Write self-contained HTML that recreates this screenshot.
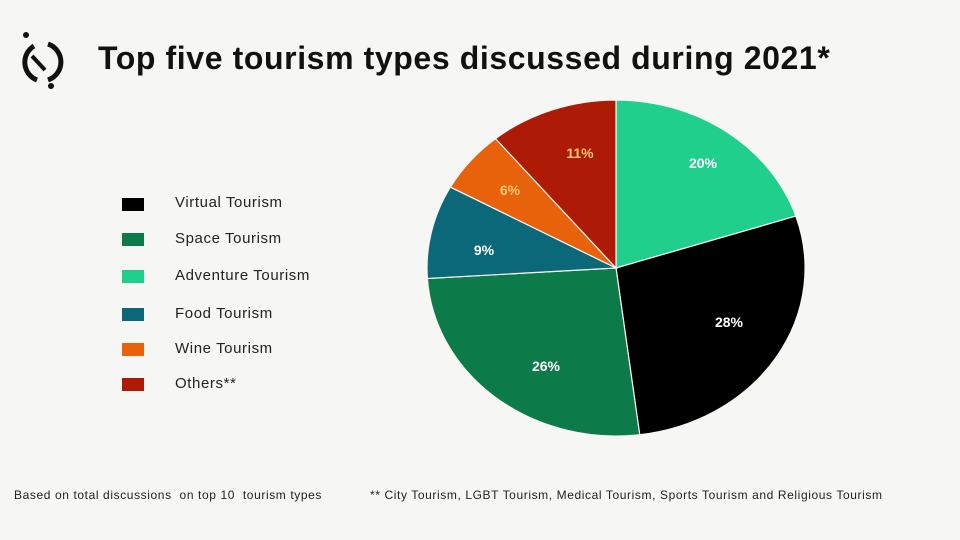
<!DOCTYPE html>
<html><head><style>
body{margin:0;width:960px;height:540px;background:#f6f6f4;font-family:"Liberation Sans",sans-serif;overflow:hidden;position:relative}
.t{position:absolute;white-space:nowrap}
.sq{position:absolute;left:122px;width:22px;height:13px}
.lg{position:absolute;left:175px;font-size:15px;letter-spacing:0.6px;color:#222}
</style></head><body>
<svg width="960" height="540" style="position:absolute;left:0;top:0">
<g fill="none" stroke="#111" stroke-width="5">
<path d="M34,46 A19,19 0 0 0 37,80"/><path d="M48,44 A19,19 0 0 1 48,80"/>
<line x1="32" y1="56" x2="45" y2="70" stroke-width="4"/>
</g>
<circle cx="26" cy="35" r="3" fill="#111"/><circle cx="51" cy="86" r="3" fill="#111"/>
<g stroke="#f6f6f4" stroke-width="1.2">
<path d="M616,268 L616,100 A189,168 0 0 1 795.8,216.1 Z" fill="#20cf8c"/>
<path d="M616,268 L795.8,216.1 A189,168 0 0 1 639.7,434.7 Z" fill="#000"/>
<path d="M616,268 L639.7,434.7 A189,168 0 0 1 427.4,278.5 Z" fill="#0d7a4a"/>
<path d="M616,268 L427.4,278.5 A189,168 0 0 1 450.4,187.1 Z" fill="#0b6878"/>
<path d="M616,268 L450.4,187.1 A189,168 0 0 1 495.5,138.6 Z" fill="#e8620c"/>
<path d="M616,268 L495.5,138.6 A189,168 0 0 1 616,100 Z" fill="#ad1a05"/>
</g>
<g font-family="Liberation Sans" font-weight="bold" font-size="14" text-anchor="middle">
<text x="703" y="168" fill="#fff">20%</text>
<text x="729" y="327" fill="#fff">28%</text>
<text x="546" y="371" fill="#fff">26%</text>
<text x="484" y="255" fill="#fff">9%</text>
<text x="510" y="195" fill="#f7c878">6%</text>
<text x="580" y="158" fill="#f7c878">11%</text>
</g>
</svg>
<div class="t" style="left:98px;top:40px;font-size:32px;letter-spacing:0.6px;font-weight:bold;color:#111">Top five tourism types discussed during 2021*</div>
<div class="sq" style="top:198px;background:#000"></div><div class="lg" style="top:194px">Virtual Tourism</div>
<div class="sq" style="top:233px;background:#0d7a4a"></div><div class="lg" style="top:230px">Space Tourism</div>
<div class="sq" style="top:270px;background:#20cf8c"></div><div class="lg" style="top:267px">Adventure Tourism</div>
<div class="sq" style="top:308px;background:#0b6878"></div><div class="lg" style="top:305px">Food Tourism</div>
<div class="sq" style="top:343px;background:#e8620c"></div><div class="lg" style="top:340px">Wine Tourism</div>
<div class="sq" style="top:378px;background:#ad1a05"></div><div class="lg" style="top:375px">Others**</div>
<div class="t" style="left:14px;top:488px;font-size:12px;letter-spacing:0.6px;color:#222">Based on total discussions&nbsp; on top 10&nbsp; tourism types</div>
<div class="t" style="left:370px;top:488px;font-size:12px;letter-spacing:0.6px;color:#222">** City Tourism, LGBT Tourism, Medical Tourism, Sports Tourism and Religious Tourism</div>
</body></html>
